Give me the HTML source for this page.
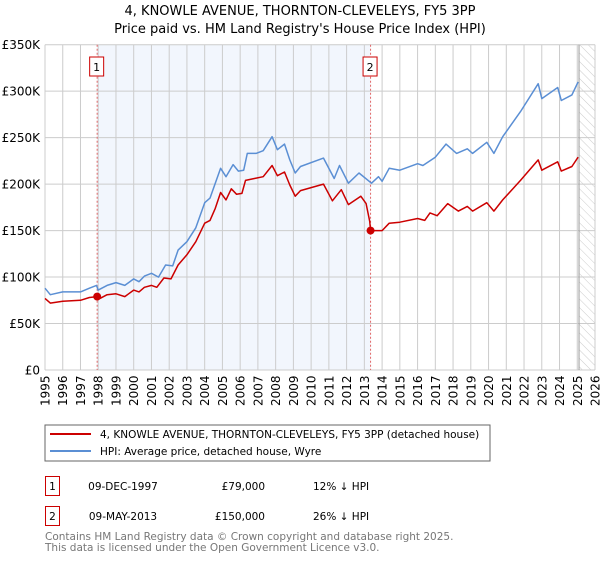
<!DOCTYPE html>
<html><head><meta charset="utf-8"><style>
body{margin:0;background:#fff;font-family:"Liberation Sans","DejaVu Sans",sans-serif;}
svg text{font-family:"DejaVu Sans","Liberation Sans",sans-serif;}
</style></head><body>
<svg width="600" height="560" viewBox="0 0 600 560" xmlns="http://www.w3.org/2000/svg">
<defs><pattern id="hatch" width="6" height="6" patternUnits="userSpaceOnUse" patternTransform="rotate(-45)"><line x1="0" y1="0" x2="0" y2="6" stroke="#ccc" stroke-width="1"/></pattern></defs>
<text x="300" y="15" text-anchor="middle" font-size="13" fill="#000">4, KNOWLE AVENUE, THORNTON-CLEVELEYS, FY5 3PP</text>
<text x="300" y="33" text-anchor="middle" font-size="13" fill="#000">Price paid vs. HM Land Registry's House Price Index (HPI)</text>
<g id="plot"></g>
<rect x="45" y="425" width="445" height="36" fill="#fff" stroke="#666"/>
<line x1="50" y1="434" x2="91" y2="434" stroke="#cc0000" stroke-width="2"/>
<text x="100" y="438" font-size="10.5">4, KNOWLE AVENUE, THORNTON-CLEVELEYS, FY5 3PP (detached house)</text>
<line x1="50" y1="451" x2="91" y2="451" stroke="#5b8fd4" stroke-width="2"/>
<text x="100" y="455" font-size="10.5">HPI: Average price, detached house, Wyre</text>
<g>
<rect x="45.5" y="476.5" width="14" height="19" fill="none" stroke="#cc0000"/>
<text x="52.5" y="490" text-anchor="middle" font-size="10.5">1</text>
<text x="123" y="490" text-anchor="middle" font-size="10.5">09-DEC-1997</text>
<text x="265" y="490" text-anchor="end" font-size="10.5">£79,000</text>
<text x="313" y="490" font-size="10.5">12% ↓ HPI</text></g>
<g>
<rect x="45.5" y="506.5" width="14" height="19" fill="none" stroke="#cc0000"/>
<text x="52.5" y="520" text-anchor="middle" font-size="10.5">2</text>
<text x="123" y="520" text-anchor="middle" font-size="10.5">09-MAY-2013</text>
<text x="265" y="520" text-anchor="end" font-size="10.5">£150,000</text>
<text x="313" y="520" font-size="10.5">26% ↓ HPI</text></g>
<text x="45" y="540" font-size="10.5" fill="#777">Contains HM Land Registry data © Crown copyright and database right 2025.</text>
<text x="45" y="551" font-size="10.5" fill="#777">This data is licensed under the Open Government Licence v3.0.</text>
</svg>
<script>
const yTicks=[0,50,100,150,200,250,300,350];
const yTickLabels=["£0","£50K","£100K","£150K","£200K","£250K","£300K","£350K"];
const xYears=[1995,1996,1997,1998,1999,2000,2001,2002,2003,2004,2005,2006,2007,2008,2009,2010,2011,2012,2013,2014,2015,2016,2017,2018,2019,2020,2021,2022,2023,2024,2025,2026];
const hpiT=[1995,1995.3,1996,1997,1997.5,1997.9,1998,1998.5,1999,1999.5,2000,2000.3,2000.6,2001,2001.4,2001.8,2002.2,2002.5,2003,2003.5,2004,2004.3,2004.9,2005.2,2005.6,2005.9,2006.2,2006.4,2006.9,2007.3,2007.8,2008.1,2008.5,2008.8,2009.1,2009.4,2010.7,2011.3,2011.6,2012.1,2012.7,2013.4,2013.8,2014,2014.4,2015,2016,2016.3,2017,2017.6,2018.2,2018.8,2019.1,2019.9,2020.3,2020.8,2021.8,2022.8,2023,2023.9,2024.1,2024.7,2025.05];
const hpiV=[88,81,84,84,88,91,86,91,94,91,98,95,101,104,100,113,112,129,138,153,180,185,217,208,221,214,215,233,233,236,251,237,243,226,212,219,228,206,220,201,212,201,208,203,217,215,222,220,229,243,233,238,233,245,233,251,278,308,292,304,290,296,310];
const priceT=[1995,1995.3,1996,1997,1997.5,1997.94,1998.1,1998.5,1999,1999.5,2000,2000.3,2000.6,2001,2001.3,2001.7,2002.1,2002.5,2003,2003.5,2004,2004.3,2004.6,2004.9,2005.2,2005.5,2005.8,2006.1,2006.3,2006.8,2007.3,2007.8,2008.1,2008.5,2008.8,2009.1,2009.4,2010.7,2011.2,2011.7,2012.1,2012.8,2013.1,2013.3,2013.35,2014,2014.4,2015,2016,2016.4,2016.7,2017.1,2017.7,2018.3,2018.8,2019.1,2019.9,2020.3,2020.8,2021.8,2022.8,2023,2023.9,2024.1,2024.7,2025.05];
const priceV=[77,72,74,75,78,79,77,81,82,79,86,84,89,91,89,99,98,113,124,138,158,161,174,191,183,195,189,190,204,206,208,220,209,213,199,187,193,200,182,194,178,187,179,160,150,150,158,159,163,161,169,166,179,171,176,171,180,171,183,204,226,215,224,214,219,229];
const saleT=[1997.94,2013.35];
const saleV=[79,150];
const saleLabels=["1","2"];
const X0=45,X1=595,Y0=370,Y1=44.7;
const xs=t=>X0+(t-1995)/(2026-1995)*(X1-X0);
const ys=v=>Y0-v/350*(Y0-Y1);
const NS="http://www.w3.org/2000/svg";
const g=document.getElementById('plot');
function mk(tag,attrs){const e=document.createElementNS(NS,tag);for(const k in attrs)e.setAttribute(k,attrs[k]);g.appendChild(e);return e;}
let e;
e=mk('rect',{x:xs(saleT[0]),y:Y1,width:xs(saleT[1])-xs(saleT[0]),height:Y0-Y1,fill:'#eef3fc',opacity:0.75});


e=mk('rect',{x:xs(2025.1),y:Y1,width:X1-xs(2025.1),height:Y0-Y1,fill:'url(#hatch)'});


xYears.forEach(yr=>{
 e=mk('line',{x1:xs(yr),x2:xs(yr),y1:Y1,y2:Y0,stroke:'#ccc','stroke-width':1});
 
 
 e=mk('text',{x:0,y:0,'font-size':12,transform:`translate(${xs(yr)+4.5},406) rotate(-90)`});
 e.textContent=yr;
 
 
});
yTicks.forEach((v,i)=>{
 e=mk('line',{x1:X0,x2:X1,y1:ys(v),y2:ys(v),stroke:'#ccc','stroke-width':1});
 
 
 e=mk('text',{x:40,y:ys(v)+4.5,'text-anchor':'end','font-size':12});
 e.textContent=yTickLabels[i];
 
 
});
e=mk('line',{x1:xs(2025.1),x2:xs(2025.1),y1:Y1,y2:Y0,stroke:'#999','stroke-width':1});


saleT.forEach((t,i)=>{
 e=mk('line',{x1:xs(t),x2:xs(t),y1:Y1,y2:Y0,stroke:'#e06666','stroke-width':1,'stroke-dasharray':'2,2'});
 
 
 e=mk('rect',{x:xs(t)-7.5,y:57,width:14,height:19,fill:'#fff',stroke:'#cc0000'});
 
 
 e=mk('text',{x:xs(t)-0.5,y:71,'text-anchor':'middle','font-size':11});
 e.textContent=saleLabels[i];
 
 
});
const pts=(T,V)=>T.map((t,i)=>xs(t).toFixed(1)+','+ys(V[i]).toFixed(1)).join(' ');
e=mk('polyline',{points:pts(hpiT,hpiV),fill:'none',stroke:'#5b8fd4','stroke-width':1.5,'stroke-linejoin':'round'});


e=mk('polyline',{points:pts(priceT,priceV),fill:'none',stroke:'#cc0000','stroke-width':1.5,'stroke-linejoin':'round'});


saleT.forEach((t,i)=>{
 e=mk('circle',{cx:xs(t),cy:ys(saleV[i]),r:4,fill:'#cc0000'});
 
 
});
</script>
</body></html>
